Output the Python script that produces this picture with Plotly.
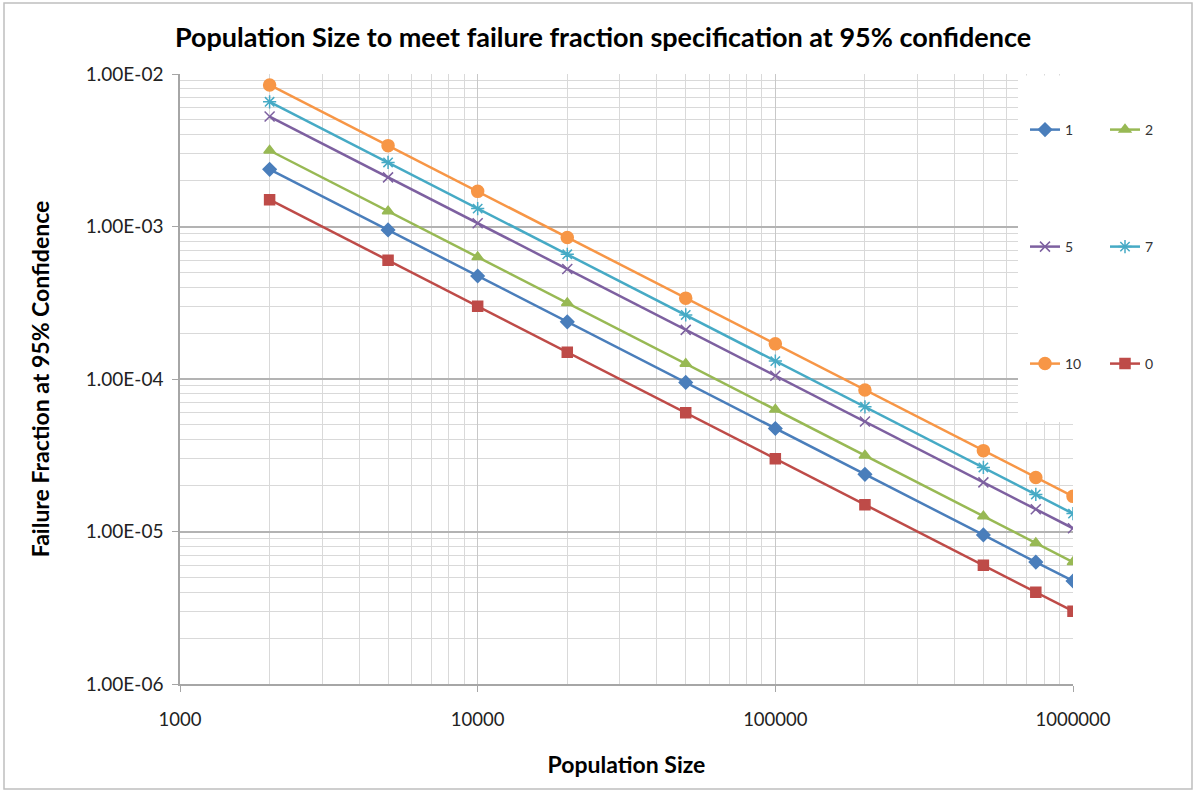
import plotly.graph_objects as go

population = [2000, 5000, 10000, 20000, 50000, 100000, 200000, 500000, 750000, 1000000]

f0 = [1.50e-3, 6.0e-4, 3.0e-4, 1.50e-4, 6.0e-5, 3.0e-5, 1.50e-5, 6.0e-6, 4.0e-6, 3.0e-6]
f1 = [2.37e-3, 9.5e-4, 4.74e-4, 2.37e-4, 9.5e-5, 4.74e-5, 2.37e-5, 9.5e-6, 6.3e-6, 4.74e-6]
f2 = [3.15e-3, 1.26e-3, 6.3e-4, 3.15e-4, 1.26e-4, 6.3e-5, 3.15e-5, 1.26e-5, 8.4e-6, 6.3e-6]
f5 = [5.26e-3, 2.10e-3, 1.05e-3, 5.26e-4, 2.10e-4, 1.05e-4, 5.26e-5, 2.10e-5, 1.40e-5, 1.05e-5]
f7 = [6.57e-3, 2.63e-3, 1.31e-3, 6.57e-4, 2.63e-4, 1.31e-4, 6.57e-5, 2.63e-5, 1.75e-5, 1.31e-5]
f10 = [8.48e-3, 3.39e-3, 1.70e-3, 8.48e-4, 3.39e-4, 1.70e-4, 8.48e-5, 3.39e-5, 2.26e-5, 1.70e-5]

series_names = ["1", "2", "5", "7", "10", "0"]
series_values = [f1, f2, f5, f7, f10, f0]
colors = ["#4A7EBB", "#98B954", "#7D60A0", "#46AAC5", "#F79646", "#BE4B48"]
symbols = ["diamond", "triangle-up", "x-thin-open", "asterisk-open", "circle", "square"]
sizes = [10, 10, 10, 11, 12, 10]

y_tickvals = [1e-6, 1e-5, 1e-4, 1e-3, 1e-2]
y_ticktext = ["1.00E-06", "1.00E-05", "1.00E-04", "1.00E-03", "1.00E-02"]
x_tickvals = [1000, 10000, 100000, 1000000]
x_ticktext = ["1000", "10000", "100000", "1000000"]

W, H = 1196, 792
L, R, T, B = 180, 1073, 74, 684
pw, ph = R - L, B - T

def px(x):
    return (x - L) / pw

def py(y):
    return (B - y) / ph

FONT = "Lato"

fig = go.Figure()

# legend slots (pixel positions of each legend entry)
leg_pos = [(1025, 130), (1105, 130), (1025, 247), (1105, 247), (1025, 364), (1105, 364)]

for i, (name, vals) in enumerate(zip(series_names, series_values)):
    lname = "legend" if i == 0 else f"legend{i+1}"
    fig.add_trace(go.Scatter(
        x=population, y=vals, name=name, mode="lines+markers",
        line=dict(color=colors[i], width=2.5),
        marker=dict(symbol=symbols[i], size=sizes[i], color=colors[i],
                    line=dict(color=colors[i], width=1.5)),
        legend=lname,
    ))

layout_legends = {}
for i, (lx, ly) in enumerate(leg_pos):
    lname = "legend" if i == 0 else f"legend{i+1}"
    layout_legends[lname] = dict(
        x=px(lx), y=py(ly), xanchor="left", yanchor="middle",
        bgcolor="rgba(0,0,0,0)", borderwidth=0,
        font=dict(family=FONT, size=14, color="#333333"),
        itemwidth=30, tracegroupgap=0,
    )

fig.update_layout(
    width=W, height=H,
    margin=dict(l=L, r=W - R, t=T, b=H - B),
    paper_bgcolor="white", plot_bgcolor="white",
    title=dict(text="<b>Population Size to meet failure fraction specification at 95% confidence</b>",
               x=603 / W, xanchor="center", y=1 - 38 / H, yanchor="middle",
               font=dict(family=FONT, size=27, color="#000000")),
    xaxis=dict(type="log", range=[3, 6], tickvals=x_tickvals, ticktext=x_ticktext,
               showgrid=True, gridcolor="#C8C8C8", gridwidth=1.2,
               minor=dict(showgrid=True, gridcolor="#D9D9D9", gridwidth=1,
                          dtick="D1", ticks=""),
               showline=True, linecolor="#A6A6A6", linewidth=1.5,
               ticks="outside", ticklen=6, tickcolor="#A6A6A6",
               tickfont=dict(family=FONT, size=18.5, color="#222222"),
               ticklabelstandoff=12,
               title=dict(text="<b>Population Size</b>", standoff=28,
                          font=dict(family=FONT, size=23, color="#000000")),
               zeroline=False),
    yaxis=dict(type="log", range=[-6, -2], tickvals=y_tickvals, ticktext=y_ticktext,
               showgrid=True, gridcolor="#B3B3B3", gridwidth=2,
               minor=dict(showgrid=True, gridcolor="#D9D9D9", gridwidth=1,
                          dtick="D1", ticks=""),
               showline=True, linecolor="#A6A6A6", linewidth=1.5,
               ticks="outside", ticklen=6, tickcolor="#A6A6A6",
               tickfont=dict(family=FONT, size=19, color="#222222"),
               ticklabelstandoff=5,
               title=dict(text="<b>Failure Fraction at 95% Confidence</b>", standoff=30,
                          font=dict(family=FONT, size=23, color="#000000")),
               zeroline=False),
    showlegend=True,
    **layout_legends,
)

# white legend area covering the gridlines
fig.add_shape(type="rect", xref="paper", yref="paper",
              x0=px(1018), x1=px(1180), y0=py(422), y1=py(75.5),
              fillcolor="white", line=dict(width=0), layer="above")
# outer chart border
fig.add_shape(type="rect", xref="paper", yref="paper",
              x0=px(4), x1=px(1192), y0=py(789), y1=py(3),
              fillcolor="rgba(0,0,0,0)", line=dict(color="#BFBFBF", width=1.5), layer="above")

fig.write_html("out.html")
